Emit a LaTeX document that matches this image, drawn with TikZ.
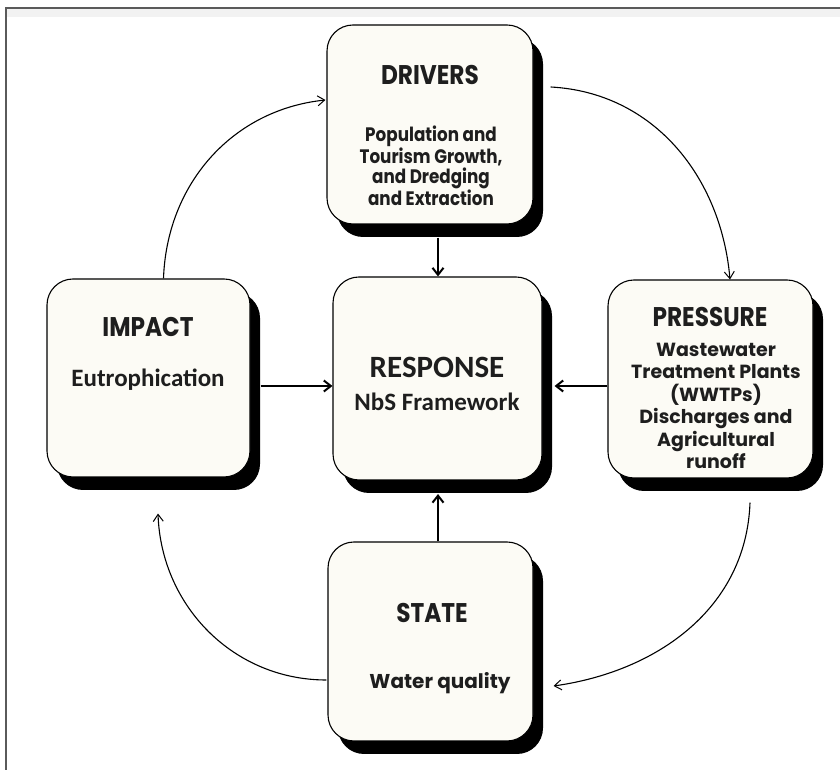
\documentclass[tikz,border=0pt]{standalone}
\usepackage{fontspec}
\setmainfont{Carlito}
\newfontfamily\popf{Poppins}[FakeStretch=0.86]
\newfontfamily\popw{Poppins}
\usetikzlibrary{arrows.meta,shadows}
\definecolor{boxfill}{HTML}{FCFBF5}
\definecolor{txt}{HTML}{1E1E1E}
\definecolor{frameline}{HTML}{5A5A5A}
\begin{document}
\begin{tikzpicture}[x=1pt,y=1pt,
  box/.style={draw=black, line width=1.1pt, fill=boxfill, rounded corners=26pt,
    inner sep=0pt, drop shadow={shadow xshift=10pt, shadow yshift=-13pt, fill=black, opacity=1}},
  ttl/.style={font=\popf\bfseries\fontsize{27}{30}\selectfont, text=txt, inner sep=0pt},
  bdy/.style={font=\popf\bfseries\fontsize{19.5}{20.5}\selectfont, text=txt, align=center, inner sep=0pt},
  cal/.style={font=\bfseries\fontsize{25}{28}\selectfont, text=txt, inner sep=0pt},
  thick arrow/.style={line width=2.4pt, -{Straight Barb[length=7pt,width=11pt,line width=2pt]}},
  thin arrow/.style={line width=1.1pt, -{Straight Barb[length=7pt,width=10pt,line width=1pt]}}
]
\useasboundingbox (0,0) rectangle (840,770);
% frame
\fill[gray!10] (6,753) rectangle (840,762);
\draw[frameline, line width=1.3pt] (5,762) -- (840,762);
\draw[frameline, line width=1.3pt] (6,762) -- (6,0);

% boxes
\node[box, minimum width=206pt, minimum height=199pt] (drivers) at (430,645.5) {};
\node[box, minimum width=209pt, minimum height=203pt] (response) at (437.5,391.5) {};
\node[box, minimum width=203pt, minimum height=198pt] (impact) at (148.5,392) {};
\node[box, minimum width=205pt, minimum height=198pt] (pressure) at (710.5,391) {};
\node[box, minimum width=205pt, minimum height=199pt] (state) at (430.5,128.5) {};

% texts
\node[ttl] (drvT) at (430,695) {DRIVERS};
\node[bdy] (drvB) at (431,604) {Population and\\Tourism Growth,\\and Dredging\\and Extraction};
\node[cal, font=\bfseries\fontsize{31}{34}\selectfont] (resT) at (437,403) {RESPONSE};
\node[cal] (resB) at (437,368) {NbS Framework};
\node[ttl] (impT) at (148,443) {IMPACT};
\node[cal] (impB) at (148,390) {Eutrophication};
\node[ttl] (preT) at (710,453) {PRESSURE};
\node[bdy, font=\popw\bfseries\fontsize{19}{22.4}\selectfont] (preB) at (716,364) {Wastewater\\Treatment Plants\\(WWTPs)\\Discharges and\\Agricultural\\runoff};
\node[ttl] (staT) at (432,157) {STATE};
\node[bdy, font=\popw\bfseries\fontsize{20}{22}\selectfont] (staB) at (440,87) {Water quality};

% thick arrows to response
\draw[thick arrow] ([shift={(8,-13)}]drivers.south) -- ([shift={(0.5,0)}]response.north);
\draw[thick arrow] ([shift={(10,-8)}]impact.east) -- ([shift={(0,-7.5)}]response.west);
\draw[thick arrow] ([shift={(0,-7)}]pressure.west) -- ([shift={(12,-7.5)}]response.east);
\draw[thick arrow] ([shift={(7.5,0)}]state.north) -- ([shift={(0.5,-13.5)}]response.south);

% cycle arrows
\draw[thin arrow] ([shift={(15,0)}]impact.north) to[out=88,in=186,looseness=1] ([shift={(-1,24.5)}]drivers.west);
\draw[thin arrow] ([shift={(17,37.5)}]drivers.east) to[out=-3,in=95,looseness=1] ([shift={(19.5,0)}]pressure.north);
\draw[thin arrow] ([shift={(39.5,-24)}]pressure.south) to[out=-92,in=8,looseness=1] ([shift={(20,-44.5)}]state.east);
\draw[thin arrow] ([shift={(-1,-38.5)}]state.west) to[out=180,in=-88,looseness=1] ([shift={(9.5,-36)}]impact.south);
\end{tikzpicture}
\end{document}
